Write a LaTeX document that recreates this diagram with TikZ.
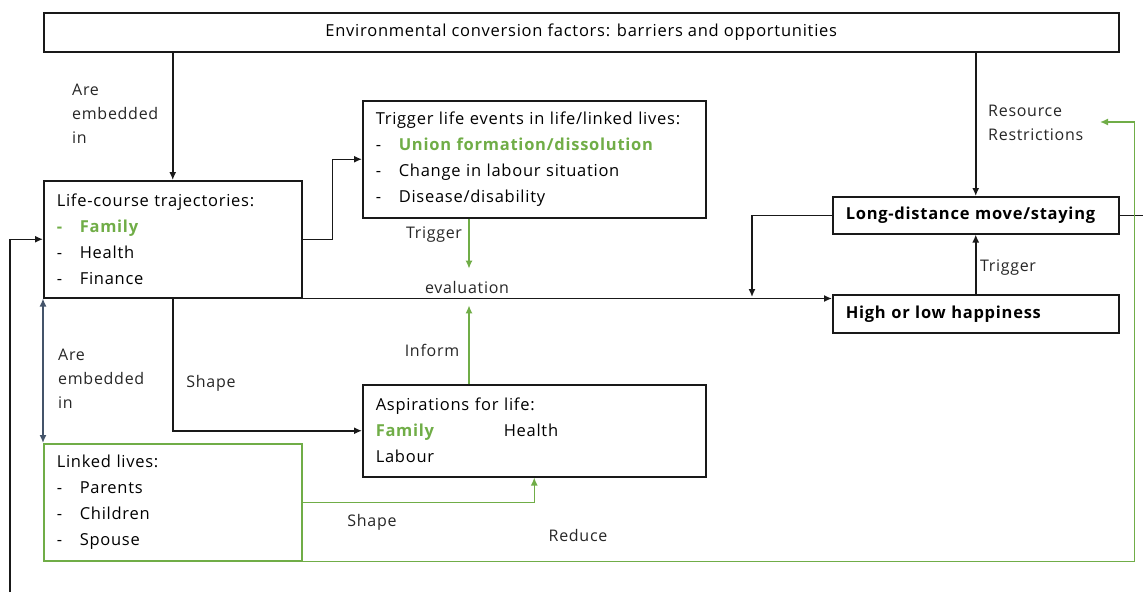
\documentclass[tikz,border=0pt]{standalone}
\usepackage{fontspec}
\setmainfont{Open Sans}[LetterSpace=4.5]
\usetikzlibrary{arrows.meta,positioning,calc}
\definecolor{linkgreen}{RGB}{112,173,71}
\definecolor{slateblue}{RGB}{68,84,106}
\newcommand{\dashitem}[1]{\makebox[23pt][l]{-}#1}

\begin{document}
\begin{tikzpicture}[
  x=1pt, y=-1pt,
  >={Latex[length=8pt,width=7pt]},
  banner/.style={
    draw=black!90,
    line width=1.5pt,
    anchor=north west,
    minimum width=1075pt,
    minimum height=39pt,
    font=\fontsize{16.5}{26}\selectfont
  },
  box/.style={
    draw=black!90,
    line width=1.5pt,
    anchor=north west,
    inner xsep=13pt,
    inner ysep=0pt,
    align=left,
    font=\fontsize{16.5}{26}\selectfont
  },
  outcome/.style={
    box,
    text width=260pt,
    font=\fontsize{16.5}{20}\selectfont\bfseries
  },
  lbl/.style={
    inner sep=0pt,
    align=left,
    text=black!85,
    font=\fontsize{16}{24}\selectfont
  },
  link/.style={line width=1.5pt, black!90},
  greenlink/.style={line width=1.5pt, linkgreen}
]
\useasboundingbox (0,0) rectangle (1143,592);

% -------- Boxes --------
\node[banner] (env) at (43,12)
{Environmental conversion factors: barriers and opportunities};

\node[box, text width=232pt, minimum height=117pt] (life) at (43,180)
{Life-course trajectories:\\
{\color{linkgreen}\bfseries\dashitem{Family}}\\
\dashitem{Health}\\
\dashitem{Finance}};

\node[box, text width=317pt, minimum height=117pt] (trig) at (362,100)
{Trigger life events in life/linked lives:\\
\dashitem{\textcolor{linkgreen}{\textbf{Union formation/dissolution}}}\\
\dashitem{Change in labour situation}\\
\dashitem{Disease/disability}};

\node[box, text width=317pt, minimum height=92pt] (aspir) at (362,384)
{Aspirations for life:\\
\makebox[128pt][l]{\textcolor{linkgreen}{\textbf{Family}}}Health\\
Labour};

\node[box, draw=linkgreen, text width=232pt, minimum height=117pt] (linked) at (43,443)
{Linked lives:\\
\dashitem{Parents}\\
\dashitem{Children}\\
\dashitem{Spouse}};

\node[outcome, minimum height=37pt] (move) at (832,196) {Long-distance move/staying};
\node[outcome, minimum height=38pt] (happy) at (832,294) {High or low happiness};

% -------- Labels --------
\node[lbl, anchor=west] (embed1) at (72,114) {Are\\embedded\\in};
\node[lbl, anchor=west] (embed2) at (58,379) {Are\\embedded\\in};
\node[lbl, anchor=west] (restr) at (988,123) {Resource\\Restrictions};
\node[lbl] (trigA) at (434,235) {Trigger};
\node[lbl] (trigB) at (1008,268) {Trigger};
\node[lbl] (eval) at (467,287) {evaluation};
\node[lbl] (inform) at (432,350) {Inform};
\node[lbl] (shapeA) at (211,383) {Shape};
\node[lbl] (shapeB) at (372,522) {Shape};
\node[lbl] (reduce) at (578,535) {Reduce};

% -------- Free ends --------
\coordinate (merge) at (752,297);
\coordinate (outR) at (1143,214);
\coordinate (outL) at (10,592);
\coordinate (restrTip) at (1100,122);
\coordinate (greenX) at (469,0);

% -------- Black connectors --------
\draw[link, ->] (life.north |- env.south) -- (life.north);
\draw[link, ->] (move.north |- env.south) -- (move.north);
\draw[link, ->] (life.east) -- ++(30,0) |- (trig.west);
\draw[link, ->] (life.south east) -- (life.south east -| happy.west);
\draw[link, ->] (happy.north) -- (move.south);
\draw[link, ->] (move.west) -| (merge);
\draw[link] (move.east) -- (move.east -| outR);
\draw[link, ->] (outL) |- (life.west);
\draw[link, ->] (life.south) |- (aspir.west);
\draw[line width=1.5pt, slateblue, <->] (life.south west) -- (linked.north west);

% -------- Green connectors --------
\draw[greenlink, ->] (trig.south -| greenX) -- ([yshift=12pt]eval.north -| greenX);
\draw[greenlink, ->] (aspir.north -| greenX) -- ([yshift=-12pt]eval.south -| greenX);
\draw[greenlink, ->] (linked.east) -| (aspir.south);
\draw[greenlink, ->] (linked.south east) -- ++(832,0) |- (restrTip);

\end{tikzpicture}
\end{document}
